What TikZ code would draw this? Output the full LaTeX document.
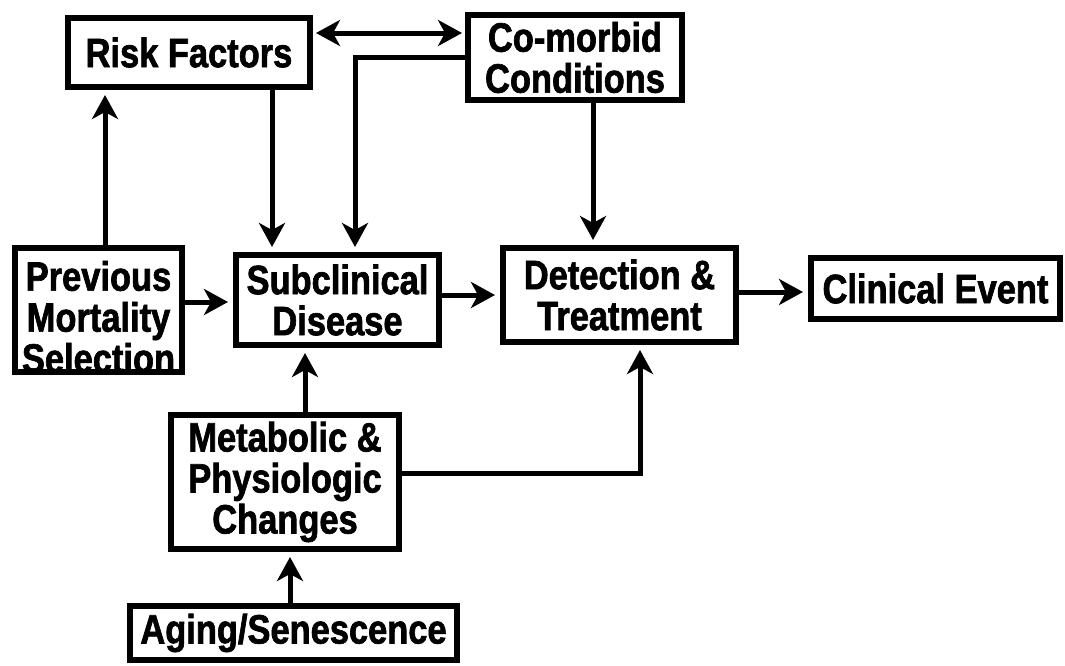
\documentclass[tikz,border=0pt]{standalone}
\usepackage{fontspec}
\newfontfamily\lab{Liberation Sans}[FakeStretch=0.84,FakeBold=1.6]
\usetikzlibrary{arrows.meta,calc}
\tikzset{
  labfont/.style={font=\lab\bfseries\fontsize{41}{41}\selectfont},
  box/.style={draw, line width=6pt, fill=white, inner sep=0pt, align=center, labfont},
  tip/.tip={Stealth[length=24pt,width=26pt,inset=7pt]},
  arr/.style={line width=5pt, -tip, shorten >=5pt},
  darr/.style={line width=5pt, tip-tip, shorten >=3pt, shorten <=3pt},
}
\begin{document}
\begin{tikzpicture}[x=1pt,y=-1pt]
\useasboundingbox[fill=white] (0,0) rectangle (1065,665);
% boxes
\node[box, minimum width=242, minimum height=69] (RF) at (189,52.5) {Risk Factors};
\node[box, minimum width=214, minimum height=85] (CM) at (575,57.5) {Co-morbid\\Conditions};
\node[box, minimum width=203, minimum height=90] (SD) at (337.5,300) {Subclinical\\Disease};
\node[box, minimum width=233, minimum height=94] (DT) at (619.5,295) {Detection \&\\Treatment};
\node[box, minimum width=249, minimum height=61] (CE) at (935.5,288.5) {Clinical Event};
\node[box, minimum width=228, minimum height=134] (MPC) at (285,482) {Metabolic \&\\Physiologic\\Changes};
\node[box, minimum width=327, minimum height=54] (AS) at (293.5,633) {Aging/Senescence};
% previous mortality selection (text clipped by its lower border)
\node[box, minimum width=167, minimum height=124] (PMS) at (98.5,310) {};
\begin{scope}
  \clip (PMS.south west) rectangle (PMS.north east);
  \node[labfont, align=center, inner sep=0pt] (PMSt) at (98.5,317) {Previous\\Mortality\\Selection};
\end{scope}
\draw[line width=6pt] ([yshift=3pt]PMS.south west) -- ([yshift=3pt]PMS.south east);
% helper coordinates
\coordinate (xa) at (105,0);
\coordinate (xb) at (272,0);
\coordinate (xc) at (355,57);
\coordinate (xd) at (593,0);
\coordinate (xe) at (305,0);
\coordinate (xf) at (640,473);
\coordinate (xg) at (290,0);
\coordinate (ya) at (0,33);
\coordinate (yb) at (0,302);
\coordinate (yc) at (0,295);
\coordinate (yd) at (0,292);
% connectors
\draw[arr] (PMS.north -| xa) -- (RF.south -| xa);
\draw[arr] (RF.south -| xb) -- (SD.north -| xb);
\draw[darr] (RF.east |- ya) -- (CM.west |- ya);
\draw[arr] (CM.west |- xc) -- (xc) -- (SD.north -| xc);
\draw[arr] (CM.south -| xd) -- (DT.north -| xd);
\draw[arr] (PMS.east |- yb) -- (SD.west |- yb);
\draw[arr] (SD.east |- yc) -- (DT.west |- yc);
\draw[arr] (DT.east |- yd) -- (CE.west |- yd);
\draw[arr] (MPC.north -| xe) -- (SD.south -| xe);
\draw[arr] (MPC.east |- xf) -- (xf) -- (DT.south -| xf);
\draw[arr] (AS.north -| xg) -- (MPC.south -| xg);
\end{tikzpicture}
\end{document}
